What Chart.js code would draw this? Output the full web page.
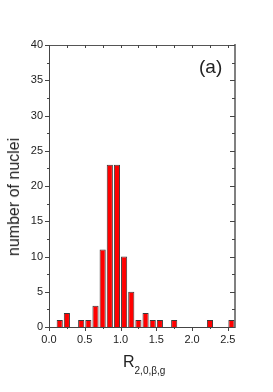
<!DOCTYPE html>
<html>
<head>
<meta charset="utf-8">
<script src="https://cdn.jsdelivr.net/npm/chart.js@4"></script>
<style>
  html, body { margin: 0; padding: 0; background: #fff; }
  #wrap { position: relative; width: 273px; height: 392px; font-family: "Liberation Sans", Arial, sans-serif; color: #222; }
  #chart { position: absolute; left: 0; top: 0; }
  #yTitle { position: absolute; left: 14px; top: 197px; transform: translate(-50%, -50%) rotate(-90deg); font-size: 16px; line-height: 1; white-space: nowrap; }
  #xTitle { position: absolute; left: 123px; top: 354px; font-size: 16px; line-height: 1; white-space: nowrap; }
  #xTitle span { font-size: 10px; position: relative; top: 7px; }
  #panel { position: absolute; left: 199px; top: 57px; font-size: 19px; line-height: 1; }
</style>
</head>
<body>
<div id="wrap">
  <canvas id="chart" width="273" height="392"></canvas>
  <div id="yTitle">number of nuclei</div>
  <div id="xTitle">R<span>2,0,β,g</span></div>
  <div id="panel">(a)</div>
</div>
<script>
// histogram bins (centre of each 0.1 wide bin) and counts
const binCenters = [0.15, 0.25, 0.45, 0.55, 0.65, 0.75, 0.85, 0.95, 1.05, 1.15, 1.25, 1.35, 1.45, 1.55, 1.75, 2.25, 2.55];
const counts = [1, 2, 1, 1, 3, 11, 23, 23, 10, 5, 1, 2, 1, 1, 1, 1, 1];

const xRange = [0, 2.6];
const yRange = [0, 40];
const xStep = 0.5;
const yStep = 5;

Chart.defaults.font.family = '"Liberation Sans", Arial, sans-serif';
Chart.defaults.font.size = 11;
Chart.defaults.color = '#222';

// tick marks like the original plot: out on left/bottom, in on top/right
const tickMarks = {
  id: 'tickMarks',
  afterDraw(chart) {
    const {ctx, chartArea: a, scales} = chart;
    ctx.save();
    ctx.strokeStyle = '#444';
    ctx.lineWidth = 1;
    const line = (x1, y1, x2, y2) => {
      ctx.beginPath();
      ctx.moveTo(x1, y1);
      ctx.lineTo(x2, y2);
      ctx.stroke();
    };
    const nx = Math.round((xRange[1] - xRange[0]) / (xStep / 2));
    for (let i = 0; i <= nx; i++) {
      const x = Math.round(scales.x.getPixelForValue(xRange[0] + i * xStep / 2)) + 0.5;
      const len = i % 2 === 0 ? 4 : 2;
      line(x, a.bottom, x, a.bottom + len);
      line(x, a.top, x, a.top + 3);
    }
    const ny = Math.round((yRange[1] - yRange[0]) / (yStep / 2));
    for (let j = 0; j <= ny; j++) {
      const y = Math.round(scales.y.getPixelForValue(yRange[0] + j * yStep / 2)) + 0.5;
      const len = j % 2 === 0 ? 4 : 2;
      line(a.left - len, y, a.left, y);
      line(a.right - len - 1, y, a.right, y);
    }
    ctx.restore();
  }
};

new Chart(document.getElementById('chart'), {
  type: 'bar',
  data: {
    datasets: [{
      data: binCenters.map((c, i) => ({x: c, y: counts[i]})),
      backgroundColor: '#ff0000',
      borderColor: '#3a3a3a',
      borderWidth: 1,
      barPercentage: 0.86,
      categoryPercentage: 1
    }]
  },
  options: {
    responsive: false,
    animation: false,
    events: [],
    layout: { padding: 0 },
    plugins: { legend: { display: false }, tooltip: { enabled: false } },
    scales: {
      x: {
        type: 'linear',
        position: 'bottom',
        offset: false,
        min: xRange[0],
        max: xRange[1],
        grid: { display: false, drawTicks: false, offset: false },
        border: { color: '#444', width: 1 },
        ticks: {
          stepSize: xStep,
          includeBounds: false,
          padding: 6,
          maxRotation: 0,
          callback: v => v.toFixed(1)
        },
        afterFit: s => { s.height = 65; }
      },
      x2: {
        type: 'linear',
        position: 'top',
        offset: false,
        min: xRange[0],
        max: xRange[1],
        grid: { display: false, drawTicks: false },
        border: { color: '#555', width: 1 },
        ticks: { display: false },
        afterFit: s => { s.height = 45; }
      },
      y: {
        type: 'linear',
        position: 'left',
        min: yRange[0],
        max: yRange[1],
        grid: { display: false, drawTicks: false },
        border: { color: '#444', width: 1 },
        ticks: { stepSize: yStep, padding: 6 },
        afterFit: s => { s.width = 49; }
      },
      y2: {
        type: 'linear',
        position: 'right',
        min: yRange[0],
        max: yRange[1],
        grid: { display: false, drawTicks: false },
        border: { color: '#808080', width: 2 },
        ticks: { display: false },
        afterFit: s => { s.width = 38; }
      }
    }
  },
  plugins: [tickMarks]
});
</script>
</body>
</html>
